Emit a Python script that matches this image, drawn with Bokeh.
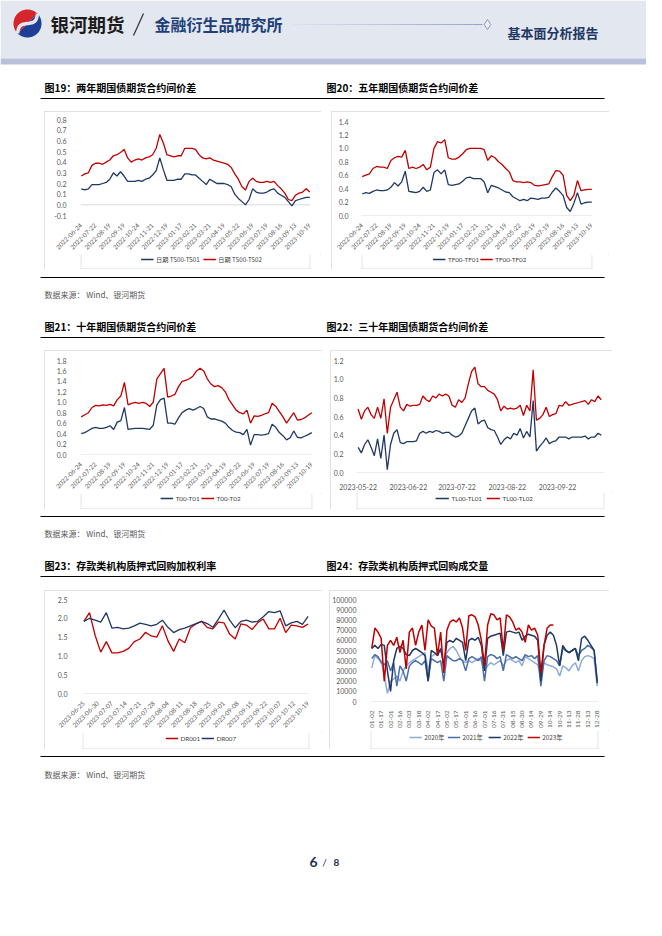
import numpy as np
import pandas as pd
from math import pi
from bokeh.plotting import figure
from bokeh.layouts import column, row
from bokeh.models import (Range1d, FixedTicker, PrintfTickFormatter, Span,
                          Spacer, DatetimeTickFormatter)
from bokeh.core.properties import value
from bokeh.embed import file_html
from bokeh.resources import INLINE

CJK = "Noto Sans CJK SC"
NUM = "Lato"
NAVY = "#1f3864"
RED = "#c00000"
GTXT = "#595959"
LTXT = "#3f3f3f"
BOX = "#d9d9d9"

# ---------------- data ----------------
# charts 19-21: trading-day axis, one value every 5 trading days
day_labels = ["2022-06-24", "2022-07-22", "2022-08-19", "2022-09-19", "2022-10-24",
              "2022-11-21", "2022-12-19", "2023-01-17", "2023-02-21", "2023-03-21",
              "2023-04-19", "2023-05-22", "2023-06-19", "2023-07-19", "2023-08-16",
              "2023-09-13", "2023-10-19"]
ts01 = [0.15, 0.14, 0.15, 0.19, 0.19, 0.19, 0.20, 0.21, 0.24, 0.30,
        0.27, 0.31, 0.27, 0.22, 0.22, 0.22, 0.23, 0.22, 0.24, 0.25,
        0.28, 0.32, 0.44, 0.33, 0.23, 0.23, 0.23, 0.24, 0.24, 0.29,
        0.29, 0.28, 0.28, 0.25, 0.22, 0.19, 0.24, 0.22, 0.20, 0.20,
        0.20, 0.19, 0.17, 0.10, 0.06, 0.03, 0.00, 0.05, 0.15, 0.12,
        0.11, 0.11, 0.12, 0.14, 0.15, 0.11, 0.09, 0.07, 0.03, -0.01,
        0.04, 0.05, 0.06, 0.07, 0.07]
ts02 = [0.27, 0.29, 0.30, 0.37, 0.39, 0.39, 0.38, 0.40, 0.42, 0.46,
        0.47, 0.49, 0.52, 0.44, 0.40, 0.42, 0.43, 0.42, 0.44, 0.45,
        0.47, 0.53, 0.66, 0.58, 0.47, 0.46, 0.45, 0.46, 0.46, 0.53,
        0.53, 0.53, 0.52, 0.47, 0.44, 0.43, 0.44, 0.42, 0.41, 0.40,
        0.39, 0.38, 0.35, 0.29, 0.24, 0.17, 0.14, 0.22, 0.25, 0.22,
        0.21, 0.21, 0.22, 0.21, 0.22, 0.18, 0.15, 0.11, 0.05, 0.04,
        0.09, 0.11, 0.12, 0.15, 0.12]
tf01 = [0.32, 0.34, 0.33, 0.36, 0.38, 0.37, 0.37, 0.38, 0.42, 0.49,
        0.44, 0.50, 0.66, 0.36, 0.35, 0.34, 0.36, 0.42, 0.36, 0.38,
        0.64, 0.68, 0.62, 0.68, 0.46, 0.45, 0.46, 0.47, 0.51, 0.56,
        0.57, 0.55, 0.55, 0.55, 0.50, 0.34, 0.45, 0.43, 0.41, 0.38,
        0.35, 0.34, 0.28, 0.25, 0.22, 0.24, 0.22, 0.26, 0.25, 0.24,
        0.26, 0.26, 0.27, 0.35, 0.41, 0.36, 0.30, 0.12, 0.06, 0.18,
        0.34, 0.17, 0.19, 0.20, 0.20]
tf02 = [0.58, 0.60, 0.62, 0.70, 0.73, 0.72, 0.72, 0.70, 0.82, 0.86,
        0.88, 0.87, 0.97, 0.70, 0.72, 0.70, 0.72, 0.76, 0.68, 0.72,
        1.00, 1.10, 1.08, 1.13, 0.86, 0.84, 0.84, 0.87, 0.92, 0.98,
        1.00, 1.00, 1.00, 1.00, 0.98, 0.82, 0.89, 0.86, 0.80, 0.76,
        0.70, 0.65, 0.52, 0.50, 0.50, 0.49, 0.50, 0.49, 0.45, 0.44,
        0.45, 0.46, 0.47, 0.58, 0.67, 0.66, 0.60, 0.30, 0.22, 0.30,
        0.52, 0.37, 0.38, 0.39, 0.39]
t01 = [0.40, 0.42, 0.46, 0.50, 0.52, 0.50, 0.50, 0.52, 0.55, 0.48,
       0.62, 0.65, 0.90, 0.48, 0.49, 0.50, 0.50, 0.50, 0.49, 0.48,
       0.56, 0.95, 1.05, 1.08, 0.60, 0.60, 0.58, 0.70, 0.80, 0.85,
       0.88, 0.85, 0.88, 0.92, 0.88, 0.72, 0.68, 0.68, 0.66, 0.64,
       0.60, 0.52, 0.46, 0.43, 0.42, 0.38, 0.48, 0.18, 0.38, 0.38,
       0.37, 0.38, 0.40, 0.58, 0.52, 0.42, 0.36, 0.28, 0.32, 0.45,
       0.33, 0.32, 0.35, 0.38, 0.42]
t02 = [0.72, 0.76, 0.80, 0.90, 0.94, 0.93, 0.95, 0.94, 0.96, 0.93,
       1.05, 1.12, 1.38, 0.95, 0.98, 1.00, 0.98, 1.00, 0.98, 0.92,
       1.00, 1.45, 1.55, 1.65, 1.10, 1.12, 1.15, 1.30, 1.40, 1.42,
       1.45, 1.50, 1.60, 1.65, 1.60, 1.45, 1.35, 1.30, 1.32, 1.28,
       1.20, 1.05, 0.95, 0.85, 0.80, 0.78, 0.85, 0.60, 0.74, 0.73,
       0.75, 0.78, 0.80, 0.98, 0.92, 0.82, 0.72, 0.60, 0.70, 0.80,
       0.66, 0.67, 0.70, 0.75, 0.80]

# chart 22: calendar dates, one value every 2 days from 2023-05-22
tl_start = "2023-05-22"
tl_ticks = ["2023-05-22", "2023-06-22", "2023-07-22", "2023-08-22", "2023-09-22"]
tl01 = [0.27, 0.21, 0.30, 0.35, 0.27, 0.18, 0.36, 0.15, 0.40, 0.03,
        0.30, 0.42, 0.46, 0.32, 0.31, 0.33, 0.33, 0.33, 0.34, 0.42,
        0.44, 0.42, 0.44, 0.43, 0.45, 0.44, 0.42, 0.43, 0.43, 0.40,
        0.38, 0.39, 0.42, 0.50, 0.58, 0.66, 0.69, 0.52, 0.55, 0.56,
        0.48, 0.46, 0.45, 0.38, 0.30, 0.35, 0.38, 0.36, 0.42, 0.40,
        0.47, 0.37, 0.44, 0.38, 0.77, 0.23, 0.28, 0.32, 0.37, 0.31,
        0.33, 0.34, 0.38, 0.38, 0.38, 0.36, 0.38, 0.38, 0.38, 0.38,
        0.39, 0.36, 0.38, 0.38, 0.42, 0.40]
tl02 = [0.68, 0.57, 0.66, 0.70, 0.62, 0.58, 0.70, 0.58, 0.79, 0.42,
        0.70, 0.78, 0.86, 0.70, 0.66, 0.73, 0.71, 0.72, 0.72, 0.73,
        0.82, 0.78, 0.76, 0.82, 0.80, 0.84, 0.82, 0.84, 0.82, 0.72,
        0.70, 0.78, 0.75, 0.80, 0.95, 1.08, 1.13, 0.95, 0.92, 0.92,
        0.88, 0.86, 0.84, 0.78, 0.66, 0.71, 0.68, 0.69, 0.68, 0.69,
        0.72, 0.61, 0.72, 0.66, 1.10, 0.56, 0.58, 0.62, 0.70, 0.60,
        0.62, 0.63, 0.72, 0.71, 0.76, 0.72, 0.73, 0.74, 0.75, 0.76,
        0.77, 0.73, 0.78, 0.76, 0.82, 0.78]

# chart 23: trading-day axis, one value every 2 trading days
dr_labels = ["2023-06-25", "2023-06-30", "2023-07-07", "2023-07-14", "2023-07-21",
             "2023-07-28", "2023-08-04", "2023-08-11", "2023-08-18", "2023-08-25",
             "2023-09-01", "2023-09-08", "2023-09-15", "2023-09-22", "2023-10-07",
             "2023-10-12", "2023-10-19"]
dr001 = [1.92, 2.15, 1.55, 1.10, 1.38, 1.08, 1.08, 1.12, 1.20, 1.38,
         1.45, 1.63, 1.53, 1.50, 1.80, 1.40, 1.12, 1.45, 1.35, 1.75,
         1.85, 1.92, 1.76, 1.72, 1.90, 1.88, 1.58, 1.45, 1.85, 1.82,
         1.70, 1.88, 1.98, 1.72, 1.72, 2.00, 1.62, 1.82, 1.80, 1.76,
         1.85]
dr007 = [1.92, 2.00, 1.95, 1.90, 2.15, 1.74, 1.76, 1.72, 1.74, 1.80,
         1.87, 1.84, 1.80, 1.84, 1.95, 1.76, 1.62, 1.70, 1.74, 1.80,
         1.86, 1.92, 1.86, 1.76, 1.98, 2.22, 1.95, 1.75, 1.92, 1.95,
         1.90, 1.92, 2.04, 2.18, 2.15, 2.20, 1.80, 1.88, 1.92, 1.84,
         2.05]

# chart 24: day of year (from 01-02), one value every 5 days
vol_labels = ["01-02", "01-17", "02-01", "02-16", "03-03", "03-18", "04-02", "04-17",
              "05-02", "05-17", "06-01", "06-16", "07-01", "07-16", "07-31", "08-15",
              "08-30", "09-14", "09-29", "10-14", "10-29", "11-13", "11-28", "12-13",
              "12-28"]
vol2020 = [33000, 45000, 42000, 40000, 25000, 8000, 20000, 22000, 25000, 20000,
           30000, 35000, 38000, 40000, 42000, 44000, 46000, 48000, 30000, 44000,
           46000, 48000, 50000, 40000, 48000, 52000, 54000, 50000, 44000, 40000,
           38000, 40000, 38000, 40000, 42000, 40000, 30000, 35000, 38000, 36000,
           38000, 40000, 35000, 40000, 42000, 40000, 38000, 40000, 35000, 44000,
           42000, 40000, 38000, 36000, 25000, 38000, 36000, 35000, 34000, 32000,
           25000, 35000, 33000, 30000, 35000, 38000, 30000, 40000, 44000, 45000,
           44000, 42000, 15000]
vol2021 = [42000, 46000, 44000, 38000, 36000, 40000, 30000, 38000, 15000, 35000,
           30000, 20000, 35000, 38000, 40000, 38000, 36000, 40000, 20000, 42000,
           40000, 38000, 40000, 20000, 45000, 42000, 40000, 40000, 42000, 40000,
           30000, 42000, 44000, 42000, 40000, 44000, 20000, 44000, 46000, 45000,
           42000, 44000, 30000, 46000, 44000, 42000, 44000, 42000, 40000, 46000,
           44000, 45000, 42000, 45000, 15000, 40000, 45000, 44000, 42000, 40000,
           35000, 52000, 50000, 48000, 50000, 52000, 45000, 50000, 52000, 55000,
           53000, 50000, 20000]
vol2022 = [52000, 55000, 52000, 56000, 55000, 30000, 10000, 40000, 52000, 54000,
           52000, 46000, 45000, 50000, 52000, 50000, 48000, 45000, 20000, 50000,
           48000, 45000, 52000, 35000, 58000, 60000, 58000, 62000, 60000, 58000,
           40000, 60000, 62000, 60000, 63000, 55000, 30000, 62000, 64000, 65000,
           66000, 67000, 45000, 68000, 69000, 68000, 67000, 68000, 60000, 64000,
           66000, 65000, 64000, 60000, 20000, 55000, 65000, 68000, 65000, 55000,
           35000, 55000, 50000, 48000, 50000, 52000, 40000, 62000, 64000, 60000,
           55000, 50000, 18000]
vol2023 = [52000, 72000, 68000, 62000, 20000, 55000, 60000, 55000, 63000, 48000,
           60000, 32000, 68000, 72000, 55000, 68000, 75000, 50000, 80000, 74000,
           72000, 45000, 68000, 28000, 70000, 78000, 80000, 78000, 82000, 72000,
           50000, 84000, 85000, 83000, 75000, 60000, 35000, 75000, 86000, 85000,
           80000, 82000, 50000, 85000, 83000, 78000, 70000, 72000, 68000, 58000,
           75000, 70000, 72000, 65000, 28000, 55000, 72000, 75000, 75000]

captions = ["图19：两年期国债期货合约间价差", "图20：五年期国债期货合约间价差",
            "图21：十年期国债期货合约间价差", "图22：三十年期国债期货合约间价差",
            "图23：存款类机构质押式回购加权利率", "图24：存款类机构质押式回购成交量"]
source_text = "数据来源：  Wind、银河期货"


# ---------------- helpers ----------------
def deco(h, w=646):
    p = figure(width=w, height=h, x_range=Range1d(0, w), y_range=Range1d(h, 0),
               output_backend="svg", toolbar_location=None, min_border=0,
               x_axis_location=None, y_axis_location=None)
    p.grid.visible = False
    p.outline_line_color = None
    p.background_fill_color = "white"
    p.border_fill_color = "white"
    return p


def txt(p, x, y, s, size, color="black", bold=False, font=CJK, align="left"):
    p.text(x=[x], y=[y], text=[s], text_font=value(font), text_font_size=size,
           text_font_style="bold" if bold else "normal", text_color=color,
           text_baseline="middle", text_align=align)


def rule(p, y):
    p.segment(x0=[40], y0=[y], x1=[604], y1=[y], line_color="black", line_width=1.2)


def chart(w, h, bl, br, bt, bb, xr, yr, x_type="linear"):
    p = figure(width=w, height=h, x_range=xr, y_range=yr, x_axis_type=x_type,
               output_backend="svg", toolbar_location=None,
               min_border_left=bl, min_border_right=br, min_border_top=bt, min_border_bottom=bb)
    p.grid.visible = False
    p.outline_line_color = None
    p.background_fill_color = "white"
    p.border_fill_color = "white"
    for ax in (p.xaxis[0], p.yaxis[0]):
        ax.axis_line_color = None
        ax.major_tick_line_color = None
        ax.minor_tick_line_color = None
        ax.major_label_text_font = NUM
        ax.major_label_text_font_size = "7px"
        ax.major_label_text_color = GTXT
    p.add_layout(Span(location=0, dimension="width", line_color=BOX,
                      line_width=1, level="underlay"))
    return p


def yticks(p, ticks, fmt, standoff):
    p.yaxis[0].ticker = FixedTicker(ticks=ticks)
    p.yaxis[0].formatter = PrintfTickFormatter(format=fmt)
    p.yaxis[0].major_label_standoff = standoff


def xcat(p, positions, labels, angle, standoff, size="6.3px"):
    p.xaxis[0].ticker = FixedTicker(ticks=positions)
    p.xaxis[0].major_label_overrides = {int(k): v for k, v in zip(positions, labels)}
    p.xaxis[0].major_label_orientation = angle
    p.xaxis[0].major_label_standoff = standoff
    p.xaxis[0].major_label_text_font_size = size


def boxed(p, w, hs, items, yc, font=NUM, size="6.3px"):
    """chart figure + legend strip, wrapped in a light-grey box"""
    s = deco(hs, w)
    for x0, lab, col in items:
        s.segment(x0=[x0], y0=[yc], x1=[x0 + 15], y1=[yc], line_color=col, line_width=1.6)
        txt(s, x0 + 18, yc, lab, size, LTXT, False, font)
    s.segment(x0=[0.5, w - 0.5, 0], y0=[0, 0, hs - 0.5], x1=[0.5, w - 0.5, w],
              y1=[hs, hs, hs - 0.5], line_color=BOX, line_width=1)
    return column(p, s, styles={"outline": "1px solid " + BOX, "outline-offset": "-1px"})


# ---------------- header + captions ----------------
top = deco(111)
top.quad(left=0, right=646, top=0, bottom=58, fill_color="#e3e7ef", line_color=None)
top.quad(left=0, right=646, top=58, bottom=64, fill_color="#b9c0da", line_color=None)
cx, cy, rr = 27, 23, 14
t1 = np.linspace(pi / 4, 5 * pi / 4, 40)
t2 = np.linspace(5 * pi / 4, 9 * pi / 4, 40)
top.patch(cx + rr * np.cos(t1), cy - rr * np.sin(t1), fill_color="#d7262b", line_color=None)
top.patch(cx + rr * np.cos(t2), cy - rr * np.sin(t2), fill_color="#1f3f95", line_color=None)
sv = np.linspace(-1, 1, 30)
top.line(cx + sv * rr * 0.707 + 3.5 * np.sin(pi * sv) * 0.707,
         cy - sv * rr * 0.707 + 3.5 * np.sin(pi * sv) * 0.707,
         line_color="#e3e7ef", line_width=3.5)
txt(top, 50, 23, "银河期货", "18.5px", "#1b1b1b", True)
top.segment(x0=[143], y0=[13], x1=[133], y1=[35], line_color="#3a3a3a", line_width=1.3)
txt(top, 154, 23, "金融衍生品研究所", "16px", "#203f78", True)
for k in range(19):
    top.segment(x0=[292 + 10 * k], y0=[24], x1=[302 + 10 * k], y1=[24],
                line_color="#98a2c8", line_alpha=0.08 + 0.9 * k / 18, line_width=1)
top.scatter(x=[487], y=[24], marker="diamond", size=10, fill_color="#eceef4",
            line_color="#8f98bf", line_width=1)
txt(top, 507, 32, "基本面分析报告", "13px", "#1f3864", True)
txt(top, 44, 87, captions[0], "10px", "black", True)
txt(top, 326, 87, captions[1], "10px", "black", True)
rule(top, 98)

mid1 = deco(81)
rule(mid1, 8)
txt(mid1, 44, 25, source_text, "8px", GTXT)
txt(mid1, 44, 57, captions[2], "10px", "black", True)
txt(mid1, 326, 57, captions[3], "10px", "black", True)
rule(mid1, 68)

mid2 = deco(81)
rule(mid2, 7)
txt(mid2, 44, 24, source_text, "8px", GTXT)
txt(mid2, 44, 56, captions[4], "10px", "black", True)
txt(mid2, 326, 56, captions[5], "10px", "black", True)
rule(mid2, 67)

bottom = deco(171)
rule(bottom, 7)
txt(bottom, 44, 25, source_text, "8px", GTXT)
txt(bottom, 313, 112, "6", "14px", "#1f2d4d", True, NUM, "center")
txt(bottom, 324, 112, "/", "10px", "#1f2d4d", False, NUM, "center")
txt(bottom, 336, 113, "8", "10px", "#1f2d4d", True, NUM, "center")

# ---------------- charts ----------------
xd = list(range(0, 321, 5))
xlab = list(range(0, 321, 20))

c19 = chart(277, 143, 36, 11, 8, 39, Range1d(-1, 321), Range1d(-0.1, 0.8))
yticks(c19, [round(-0.1 + 0.1 * i, 1) for i in range(10)], "%.1f", 8)
xcat(c19, xlab, day_labels, pi / 4, 3)
c19.line(xd, ts01, line_color=NAVY, line_width=1.3)
c19.line(xd, ts02, line_color=RED, line_width=1.3)
b19 = boxed(c19, 277, 15, [(73, "日期 TS00-TS01", NAVY), (148, "日期 TS00-TS02", RED)],
            5, CJK, "6.2px")

c20 = chart(278, 143, 30, 17, 10, 38, Range1d(-1, 321), Range1d(0, 1.4))
yticks(c20, [round(0.2 * i, 1) for i in range(8)], "%.1f", 7)
xcat(c20, xlab, day_labels, pi / 4, 3)
c20.line(xd, tf01, line_color=NAVY, line_width=1.3)
c20.line(xd, tf02, line_color=RED, line_width=1.3)
b20 = boxed(c20, 278, 15, [(86, "TF00-TF01", NAVY), (143, "TF00-TF02", RED)], 5)

c21 = chart(278, 143, 36, 10, 10, 38, Range1d(-1, 321), Range1d(0, 1.8))
yticks(c21, [round(0.2 * i, 1) for i in range(10)], "%.1f", 8)
xcat(c21, xlab, day_labels, pi / 4, 3)
c21.line(xd, t01, line_color=NAVY, line_width=1.3)
c21.line(xd, t02, line_color=RED, line_width=1.3)
b21 = boxed(c21, 278, 16, [(96, "T00-T01", NAVY), (145, "T00-T02", RED)], 5)

tl_dates = pd.date_range(tl_start, periods=len(tl01), freq="2D")
c22 = chart(282, 142, 20, 8, 10, 17,
            Range1d(pd.Timestamp("2023-05-21"), pd.Timestamp("2023-10-21")),
            Range1d(0, 1.2), x_type="datetime")
yticks(c22, [round(0.2 * i, 1) for i in range(7)], "%.1f", 7)
c22.xaxis[0].ticker = FixedTicker(ticks=[pd.Timestamp(d).timestamp() * 1000 for d in tl_ticks])
c22.xaxis[0].formatter = DatetimeTickFormatter(days="%Y-%m-%d", months="%Y-%m-%d",
                                               years="%Y-%m-%d", hours="%Y-%m-%d")
c22.xaxis[0].major_label_standoff = 5
c22.line(tl_dates, tl01, line_color=NAVY, line_width=1.3)
c22.line(tl_dates, tl02, line_color=RED, line_width=1.3)
b22 = boxed(c22, 282, 17, [(90, "TL00-TL01", NAVY), (148, "TL00-TL02", RED)], 6)

xdr = list(range(0, 81, 2))
c23 = chart(278, 142, 38, 13, 9, 38, Range1d(-0.5, 80.5), Range1d(0, 2.5))
yticks(c23, [round(0.5 * i, 1) for i in range(6)], "%.1f", 9)
xcat(c23, list(range(0, 81, 5)), dr_labels, pi / 4, 3)
c23.line(xdr, dr001, line_color=RED, line_width=1.3)
c23.line(xdr, dr007, line_color=NAVY, line_width=1.3)
b23 = boxed(c23, 278, 17, [(102, "DR001", RED), (146, "DR007", NAVY)], 6)

xv = list(range(0, 361, 5))
c24 = chart(280, 140, 33, 11, 9, 25, Range1d(-2, 362), Range1d(0, 100000))
yticks(c24, [10000 * i for i in range(11)], "%d", 8)
xcat(c24, list(range(0, 361, 15)), vol_labels, pi / 2, 3, "6.5px")
c24.line(xv, vol2020, line_color="#8faadc", line_width=1.5)
c24.line(xv, vol2021, line_color="#4a6ea8", line_width=1.5)
c24.line(xv, vol2022, line_color="#1f3864", line_width=1.5)
c24.line(xv[:len(vol2023)], vol2023, line_color=RED, line_width=1.5)
b24 = boxed(c24, 280, 19, [(48, "2020年", "#8faadc"), (95, "2021年", "#4a6ea8"),
                           (145, "2022年", "#1f3864"), (193, "2023年", RED)], 7, CJK)

layout = column(
    top,
    row(Spacer(width=44, height=158), b19, Spacer(width=10, height=158), b20),
    mid1,
    row(Spacer(width=44, height=159), b21, Spacer(width=8, height=159), b22),
    mid2,
    row(Spacer(width=44, height=159), b23, Spacer(width=7, height=159), b24),
    bottom,
)

open("out.html", "w").write(file_html(layout, INLINE, title="基本面分析报告"))
